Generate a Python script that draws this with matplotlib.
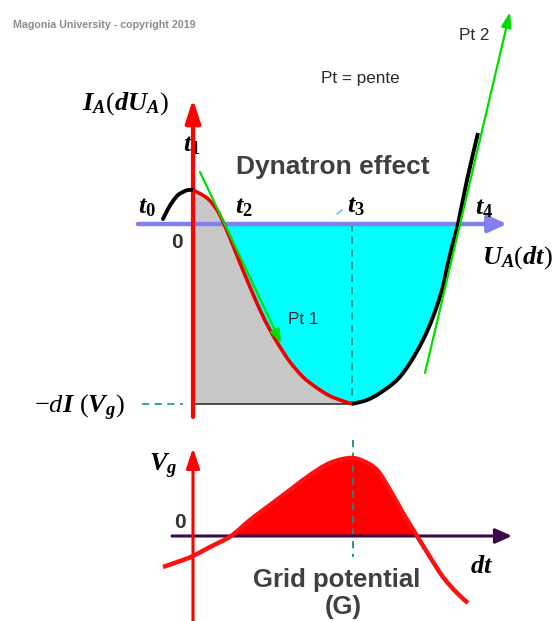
import matplotlib
matplotlib.use("Agg")
import matplotlib.pyplot as plt
import numpy as np
from matplotlib.patches import FancyArrowPatch, ArrowStyle, PathPatch
from matplotlib.path import Path

plt.rcParams['mathtext.fontset'] = 'custom'
plt.rcParams['mathtext.it'] = 'Liberation Serif:italic:bold'
plt.rcParams['mathtext.rm'] = 'Liberation Serif'
plt.rcParams['mathtext.bf'] = 'Liberation Serif:bold'
plt.rcParams['mathtext.sf'] = 'Liberation Serif:italic'

# ---- data (pixel positions of the schematic) ----
# upper panel: anode current characteristic
black_left_x = [163, 168, 173, 178, 183, 188, 193]
black_left_y = [219, 209, 201, 195, 192, 190, 190]
red_x = [193, 207, 217, 224, 232, 240, 250, 260, 270, 280, 290, 303, 317, 330, 343, 352]
red_y = [190, 198, 210, 224, 243, 263, 287, 310, 330, 347, 362, 377, 388, 396, 401, 404]
black_right_x = [352, 367, 380, 397, 410, 423, 433, 442, 448, 453, 458, 467, 478]
black_right_y = [404, 400, 393, 380, 363, 340, 317, 290, 263, 243, 224, 180, 133]
pt1_x = [200, 281]
pt1_y = [172, 343]
pt2_x = [425, 510]
pt2_y = [373, 12]
# lower panel: grid potential
grid_x = [163, 183, 193, 210, 231, 250, 270, 290, 310, 330, 350, 363, 377, 390, 403, 417, 430, 443, 457, 468]
grid_y = [567, 560, 556, 547, 536, 520, 505, 490, 475, 463, 458, 461, 470, 490, 513, 536, 557, 577, 593, 603]

fig = plt.figure(figsize=(5.6, 6.21), dpi=100)
ax = fig.add_axes([0, 0, 1, 1])
ax.set_xlim(0, 560)
ax.set_ylim(621, 0)
ax.axis('off')


def smooth(xs, ys):
    """Bezier (Catmull-Rom) path through the read points."""
    P = np.column_stack([xs, ys]).astype(float)
    n = len(P)
    verts = [P[0]]
    codes = [Path.MOVETO]
    for i in range(n - 1):
        p0 = P[i - 1] if i > 0 else P[i]
        p1 = P[i]
        p2 = P[i + 1]
        p3 = P[i + 2] if i + 2 < n else P[i + 1]
        verts += [p1 + (p2 - p0) / 6, p2 - (p3 - p1) / 6, p2]
        codes += [Path.CURVE4] * 3
    return verts, codes


def curve(xs, ys, **kw):
    v, c = smooth(xs, ys)
    ax.add_patch(PathPatch(Path(v, c), fill=False, **kw))


def region(xs, ys, close_pts, color, z=1):
    v, c = smooth(xs, ys)
    for p in close_pts:
        v.append(p); c.append(Path.LINETO)
    v.append(v[0]); c.append(Path.CLOSEPOLY)
    ax.add_patch(PathPatch(Path(v, c), facecolor=color, edgecolor='none', lw=0, zorder=z))


def arrow(p0, p1, color, lw, hl, hw, z=5):
    a = FancyArrowPatch(p0, p1, arrowstyle=ArrowStyle('-|>', head_length=hl, head_width=hw),
                        mutation_scale=10, color=color, lw=lw, shrinkA=0, shrinkB=0, zorder=z)
    ax.add_patch(a)


O1x, O1y = 193, 224
# fills
region(red_x, red_y, [(193, 404)], '#c8c8c8')
ri = red_x.index(224)
bi = black_right_x.index(458)
cyan_x = red_x[ri:] + black_right_x[1:bi + 1]
cyan_y = red_y[ri:] + black_right_y[1:bi + 1]
region(cyan_x, cyan_y, [], '#00ffff')

# baseline and dashed guides
ax.plot([193, 352], [404, 404], color='#333333', lw=1.2, zorder=2)
ax.plot([352, 352], [224, 404], color='#1a8a8a', lw=1.3, ls=(0, (4, 3)), zorder=2)
ax.plot([142, 183], [404, 404], color='#20a0a0', lw=1.3, ls=(0, (4, 3)), zorder=2)
ax.plot([337, 342], [214, 210], color='#40c0e0', lw=1, zorder=2)

# axes
arrow((138, O1y), (507, O1y), '#8080ee', 3.2, 1.1, 0.5, z=3)
arrow((O1x, 417), (O1x, 99), '#ff0000', 3.0, 1.4, 0.45, z=4)

# curves
curve(black_left_x, black_left_y, edgecolor='black', lw=2.8, capstyle='round', zorder=5)
curve(black_right_x, black_right_y, edgecolor='black', lw=2.8, capstyle='butt', zorder=5)
curve(red_x, red_y, edgecolor='#ee0000', lw=2.6, zorder=6)
arrow((pt1_x[0], pt1_y[0]), (pt1_x[1], pt1_y[1]), '#00dd00', 1.6, 0.8, 0.3, z=7)
arrow((pt2_x[0], pt2_y[0]), (pt2_x[1], pt2_y[1]), '#00dd00', 1.6, 0.9, 0.3, z=7)

# lower panel
O2x, O2y = 193, 536
gi0, gi1 = grid_x.index(231), grid_x.index(417)
region(grid_x[gi0:gi1 + 1], grid_y[gi0:gi1 + 1], [], '#ff0000')
ax.plot([353, 353], [440, 557], color='#1a8a8a', lw=1.3, ls=(0, (4, 3)), zorder=3)
arrow((172, O2y), (512, O2y), '#3a0a48', 2.2, 1.0, 0.45, z=3)
arrow((O2x, 621), (O2x, 448), '#ff0000', 2.2, 1.2, 0.4, z=4)
curve(grid_x, grid_y, edgecolor='#ff1010', lw=3.2, zorder=5)

# texts
ax.text(13, 25, 'Magonia University - copyright 2019', fontsize=7.7, fontweight='bold',
        color='#8c8c8c', family='Liberation Sans', va='center', ha='left')
ax.text(321, 78, 'Pt = pente', fontsize=12.3, color='#2a2a2a', family='Liberation Sans',
        va='center', ha='left')
ax.text(459, 36, 'Pt 2', fontsize=12.3, color='#2a2a2a', family='Liberation Sans', va='center', ha='left')
ax.text(288, 319, 'Pt 1', fontsize=12.3, color='#2a2a2a', family='Liberation Sans', va='center', ha='left')
ax.text(333, 167, 'Dynatron effect', fontsize=19, fontweight='bold', color='#404040',
        family='Liberation Sans', va='center', ha='center')
ax.text(337, 580, 'Grid potential', fontsize=18.5, fontweight='bold', color='#404040',
        family='Liberation Sans', va='center', ha='center')
ax.text(343, 607, '(G)', fontsize=18.5, fontweight='bold', color='#404040',
        family='Liberation Sans', va='center', ha='center')
ax.text(177, 242, '0', fontsize=15, fontweight='bold', color='#333333', family='Liberation Sans',
        va='center', ha='center')
ax.text(180, 522, '0', fontsize=15, fontweight='bold', color='#333333', family='Liberation Sans',
        va='center', ha='center')

ms = 19
ax.text(126, 104, r'$I_A(dU_A)$', fontsize=ms, ha='center', va='center')
ax.text(192, 144, r'$t_\mathbf{1}$', fontsize=ms, ha='center', va='center')
ax.text(147, 206, r'$t_\mathbf{0}$', fontsize=ms, ha='center', va='center')
ax.text(244, 206, r'$t_\mathbf{2}$', fontsize=ms, ha='center', va='center')
ax.text(356, 205, r'$t_\mathbf{3}$', fontsize=ms, ha='center', va='center')
ax.text(484, 207, r'$t_\mathbf{4}$', fontsize=ms, ha='center', va='center')
ax.text(517, 258, r'$U_A(dt)$', fontsize=ms, ha='center', va='center')
ax.text(79, 408, r'$-\mathsf{d}I\ (V_g)$', fontsize=ms, ha='center', va='center')
ax.text(163, 466, r'$V_g$', fontsize=ms, ha='center', va='center')
ax.text(482, 566, r'$dt$', fontsize=ms, ha='center', va='center')

fig.savefig('out.png', dpi=100)
